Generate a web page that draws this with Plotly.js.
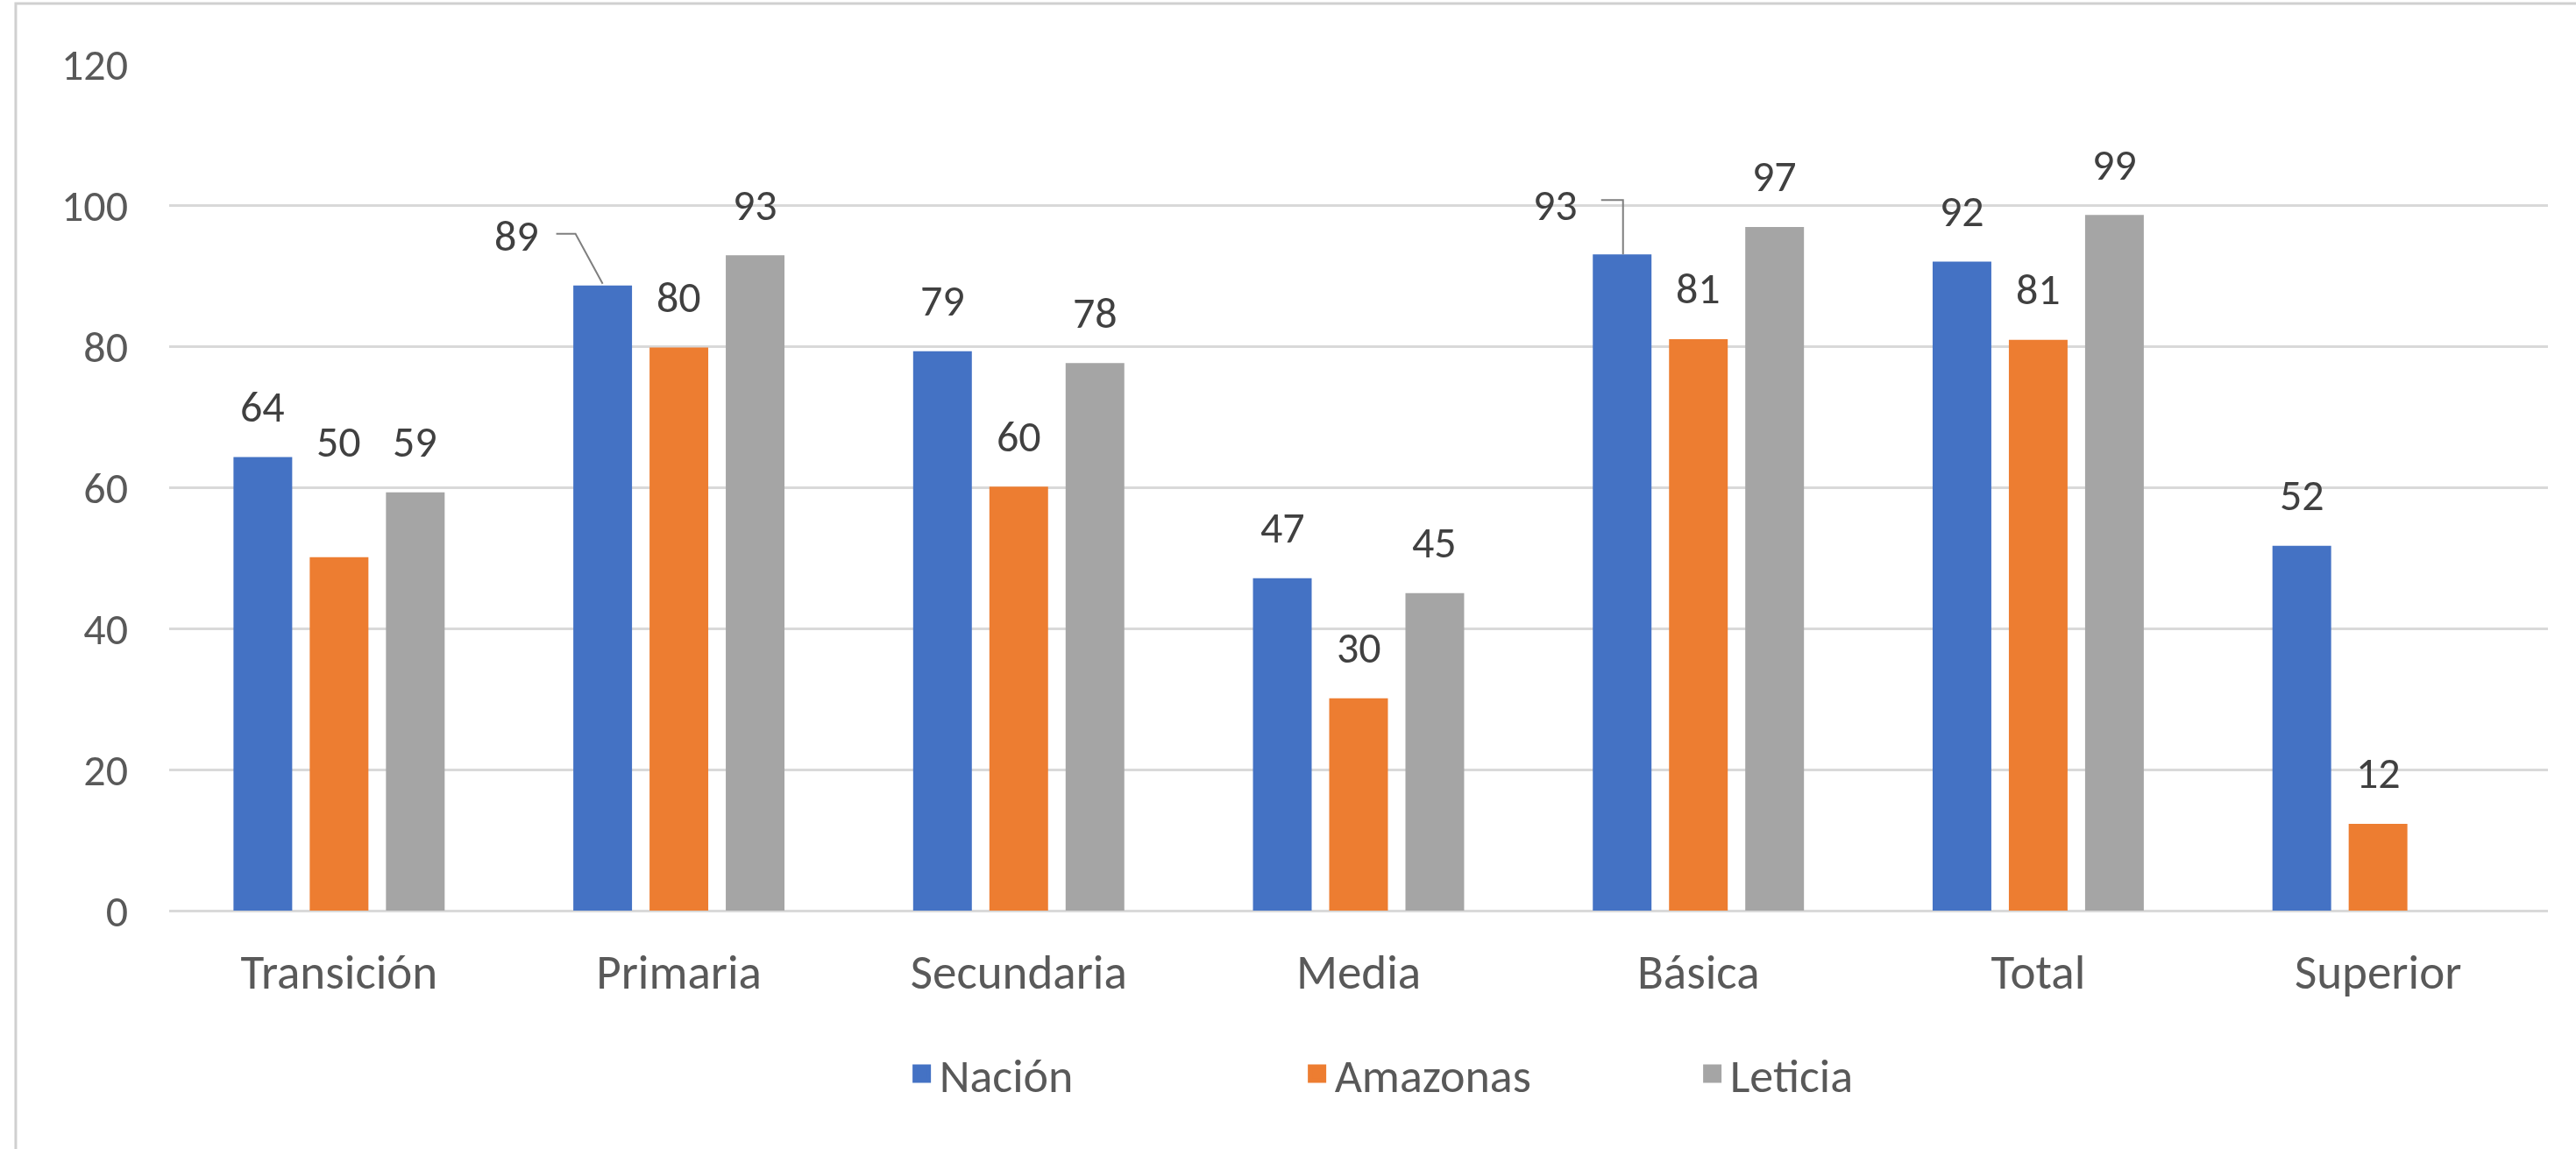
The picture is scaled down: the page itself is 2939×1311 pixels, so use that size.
<!DOCTYPE html>
<html>
<head>
<meta charset="utf-8">
<script src="https://cdn.plot.ly/plotly-3.0.1.min.js"></script>
<style>
  html, body { margin: 0; padding: 0; background: #ffffff; }
  #chart { width: 2939px; height: 1311px; }
</style>
</head>
<body>
<div id="chart"></div>
<script>
// ---------------- data ----------------
const categories = ['Transición', 'Primaria', 'Secundaria', 'Media', 'Básica', 'Total', 'Superior'];
const seriesNames = ['Nación', 'Amazonas', 'Leticia'];
const nacion   = [64.3, 88.6, 79.3, 47.1, 93.0, 92.0, 51.7];
const amazonas = [50.1, 79.8, 60.1, 30.1, 81.0, 80.9, 12.3];
const leticia  = [59.3, 92.9, 77.6, 45.0, 96.9, 98.6, null];
const yTickValues = [0, 20, 40, 60, 80, 100, 120];

// ---------------- style ----------------
const seriesColors = ['#4472C4', '#ED7D31', '#A5A5A5'];
const FONT = 'Carlito, Calibri, Lato, sans-serif';
const AXIS_TEXT = '#595959';
const LABEL_TEXT = '#404040';
const GRID = '#d9d9d9';
const BARGAP = 0.327;
const BARGROUPGAP = 0.23;
const LABEL_GAP = 58;   // px from bar top to label centre

// manual label placement tweaks (pixel offsets), keyed "series|category"
const labelTweaks = {
  'Amazonas|Transición': { dx: 0, dy: 74 },
  'Nación|Primaria': { dx: -98, dy: -1, leader: 'M-53,59 L-31,59 L0,2' },
  'Nación|Básica': { dx: -76, dy: -1, leader: 'M-24,62 L1,62 L1,0' }
};

const seriesValues = [nacion, amazonas, leticia];

const traces = seriesNames.map((name, k) => ({
  type: 'bar',
  name: name,
  x: categories,
  y: seriesValues[k],
  marker: { color: seriesColors[k] },
  showlegend: false,
  hoverinfo: 'skip'
}));

// legend keys (larger square swatches than bar legend icons)
seriesNames.forEach((name, k) => {
  traces.push({
    type: 'scatter',
    mode: 'markers',
    name: name,
    x: [null],
    y: [null],
    marker: { symbol: 'square', size: 16, color: seriesColors[k],
              line: { color: seriesColors[k], width: 5 } },
    showlegend: true,
    hoverinfo: 'skip'
  });
});

// data labels placed through the axes
const slot = (1 - BARGAP) / 3;
const annotations = [];
const shapes = [];
seriesNames.forEach((name, k) => {
  seriesValues[k].forEach((v, i) => {
    if (v === null || v === undefined) return;
    const xPos = i + (k - 1) * slot;
    const tw = labelTweaks[name + '|' + categories[i]] || {};
    annotations.push({
      xref: 'x', yref: 'y',
      x: xPos, y: v,
      text: String(Math.round(v)),
      showarrow: false,
      xanchor: 'center', yanchor: 'middle',
      xshift: tw.dx || 0,
      yshift: LABEL_GAP + (tw.dy || 0),
      font: { family: FONT, size: 50, color: LABEL_TEXT }
    });
    if (tw.leader) {
      shapes.push({
        type: 'path',
        xref: 'x', yref: 'y',
        xsizemode: 'pixel', ysizemode: 'pixel',
        xanchor: xPos, yanchor: v,
        path: tw.leader,
        line: { color: '#7f7f7f', width: 2 },
        layer: 'above'
      });
    }
  });
});

// chart-area frame (top and left edges visible in the picture)
shapes.push({
  type: 'rect', xref: 'paper', yref: 'paper',
  x0: -0.0645, x1: 1.05, y0: -0.35, y1: 1.0715,
  line: { color: '#d0d0d0', width: 3 },
  fillcolor: 'rgba(0,0,0,0)',
  layer: 'below'
});

const layout = {
  width: 2939,
  height: 1311,
  autosize: false,
  paper_bgcolor: '#ffffff',
  plot_bgcolor: '#ffffff',
  margin: { l: 193, r: 32, t: 73, b: 272, pad: 0 },
  barmode: 'group',
  bargap: BARGAP,
  bargroupgap: BARGROUPGAP,
  font: { family: FONT, size: 50, color: AXIS_TEXT },
  xaxis: {
    type: 'category',
    range: [-0.5, categories.length - 0.5],
    showgrid: false,
    showline: false,
    ticks: '',
    ticklabelstandoff: 33,
    tickfont: { family: FONT, size: 55, color: AXIS_TEXT },
    fixedrange: true
  },
  yaxis: {
    range: [0, 120],
    tickmode: 'array',
    tickvals: yTickValues,
    ticktext: yTickValues.map(String),
    showgrid: true,
    gridcolor: GRID,
    gridwidth: 3,
    zeroline: true,
    zerolinecolor: GRID,
    zerolinewidth: 3,
    showline: false,
    ticks: '',
    ticklabelstandoff: 46,
    tickfont: { family: FONT, size: 50, color: AXIS_TEXT },
    fixedrange: true
  },
  legend: {
    orientation: 'h',
    x: 0.309,
    xanchor: 'left',
    y: -0.193,
    yanchor: 'middle',
    entrywidth: 406,
    entrywidthmode: 'pixels',
    font: { family: FONT, size: 54, color: AXIS_TEXT },
    bgcolor: 'rgba(0,0,0,0)'
  },
  annotations: annotations,
  shapes: shapes,
  showlegend: true,
  hovermode: false
};

Plotly.newPlot('chart', traces, layout, { displayModeBar: false, staticPlot: true });
</script>
</body>
</html>
